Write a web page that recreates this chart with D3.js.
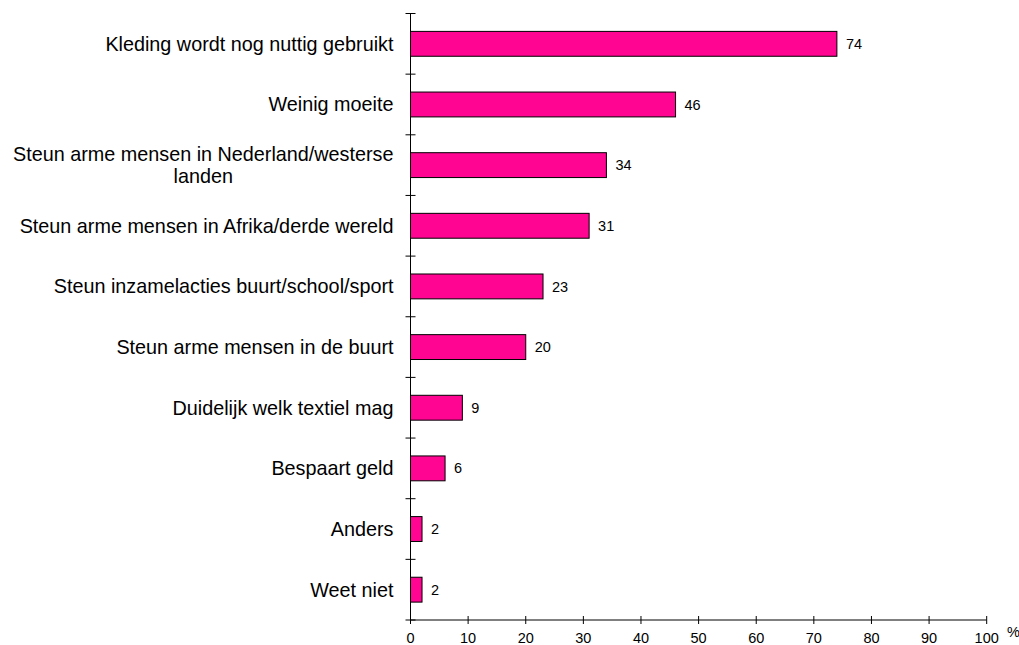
<!DOCTYPE html>
<html>
<head>
<meta charset="utf-8">
<script src="https://cdn.jsdelivr.net/npm/d3@7"></script>
<style>
body { margin: 0; background: #fff; }
text { font-family: "Liberation Sans", Arial, sans-serif; fill: #000; }
</style>
</head>
<body>
<svg width="1019" height="645"></svg>
<script>
// data
let categories = [
	"Kleding wordt nog nuttig gebruikt",
	"Weinig moeite",
	"Steun arme mensen in Nederland/westerse landen",
	"Steun arme mensen in Afrika/derde wereld",
	"Steun inzamelacties buurt/school/sport",
	"Steun arme mensen in de buurt",
	"Duidelijk welk textiel mag",
	"Bespaart geld",
	"Anders",
	"Weet niet"
];
let values = [74, 46, 34, 31, 23, 20, 9, 6, 2, 2];
let xTicks = [0, 10, 20, 30, 40, 50, 60, 70, 80, 90, 100];

let svg = d3.select("svg");
let pLeft = 410.5, pRight = 986.7, pTop = 13.5, pBottom = 620;
let labSize = 19.8, numSize = 14.5;

let x = d3.scaleLinear().domain([0, 100]).range([pLeft, pRight]);
let y = d3.scaleBand().domain(categories).range([pTop, pBottom]).paddingInner(0.59).paddingOuter(0.295);

// bars
svg.selectAll(".bar")
	.data(values)
	.enter().append("rect")
	.attr("class", "bar")
	.attr("x", x(0))
	.attr("y", function(d, i) { return y(categories[i]); })
	.attr("width", function(d) { return x(d) - x(0); })
	.attr("height", y.bandwidth())
	.attr("fill", "#ff0592")
	.attr("stroke", "#000")
	.attr("stroke-width", 1);

// value labels
svg.selectAll(".val")
	.data(values)
	.enter().append("text")
	.attr("class", "val")
	.attr("x", function(d) { return x(d) + 9; })
	.attr("y", function(d, i) { return y(categories[i]) + y.bandwidth() / 2; })
	.attr("dy", "0.35em")
	.attr("font-size", numSize)
	.text(function(d) { return d; });

// category labels, long one wrapped like the original
let wrap = { "Steun arme mensen in Nederland/westerse landen": ["Steun arme mensen in Nederland/westerse", "landen"] };
categories.forEach(function(c, i) {
	let cy = y(c) + y.bandwidth() / 2;
	let lines = wrap[c];
	if (!lines) {
		svg.append("text")
			.attr("x", pLeft - 17)
			.attr("y", cy)
			.attr("dy", "0.35em")
			.attr("text-anchor", "end")
			.attr("font-size", labSize)
			.text(c);
	} else {
		let g = svg.append("text").attr("font-size", labSize).attr("text-anchor", "middle");
		let t = g.append("tspan").text(lines[0]);
		let w = t.node().getComputedTextLength();
		let cx = pLeft - 17 - w / 2;
		g.selectAll("tspan").remove();
		lines.forEach(function(l, k) {
			g.append("tspan")
				.attr("x", cx)
				.attr("y", cy + (k - (lines.length - 1) / 2) * 22)
				.attr("dy", "0.35em")
				.text(l);
		});
	}
});

// y axis: line with cross ticks between categories
svg.append("line")
	.attr("x1", pLeft).attr("x2", pLeft)
	.attr("y1", pTop).attr("y2", pBottom)
	.attr("stroke", "#000");
let ySteps = d3.range(categories.length + 1).map(function(i) { return pTop + i * y.step(); });
svg.selectAll(".ytick")
	.data(ySteps)
	.enter().append("line")
	.attr("x1", pLeft - 5).attr("x2", pLeft + 5)
	.attr("y1", function(d) { return d; }).attr("y2", function(d) { return d; })
	.attr("stroke", "#000");

// x axis
svg.append("line")
	.attr("x1", pLeft).attr("x2", pRight)
	.attr("y1", pBottom).attr("y2", pBottom)
	.attr("stroke", "#000");
svg.selectAll(".xtick")
	.data(xTicks)
	.enter().append("line")
	.attr("x1", function(d) { return x(d); }).attr("x2", function(d) { return x(d); })
	.attr("y1", pBottom - 4).attr("y2", pBottom + 4)
	.attr("stroke", "#000");
svg.selectAll(".xlab")
	.data(xTicks)
	.enter().append("text")
	.attr("x", function(d) { return x(d); })
	.attr("y", pBottom + 23)
	.attr("text-anchor", "middle")
	.attr("font-size", numSize)
	.text(function(d) { return d; });

svg.append("text")
	.attr("x", 1007)
	.attr("y", 637)
	.attr("font-size", numSize)
	.text("%");
</script>
</body>
</html>
